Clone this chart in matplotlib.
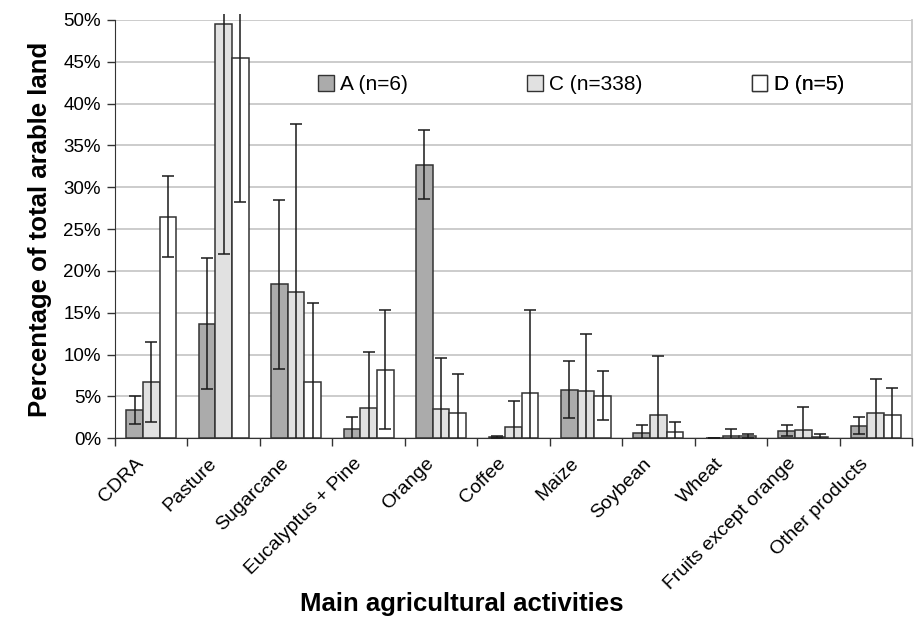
import numpy as np
import matplotlib
matplotlib.use("Agg")
import matplotlib.pyplot as plt
import matplotlib.transforms as mtransforms
from matplotlib.patches import Patch
from matplotlib.transforms import Bbox, TransformedBbox

plt.rcParams["font.family"] = ["Liberation Sans", "DejaVu Sans"]

categories = ["CDRA", "Pasture", "Sugarcane", "Eucalyptus + Pine", "Orange", "Coffee",
              "Maize", "Soybean", "Wheat", "Fruits except orange", "Other products"]

# mean share of arable land (%) and error (%), per farm group
a_vals = [3.4, 13.7, 18.4, 1.1, 32.7, 0.15, 5.8, 0.6, 0.05, 0.9, 1.5]
a_err = [1.65, 7.85, 10.1, 1.5, 4.1, 0.1, 3.4, 1.0, 0.0, 0.65, 1.0]
c_vals = [6.75, 49.5, 17.5, 3.6, 3.5, 1.3, 5.65, 2.8, 0.25, 1.0, 3.05]
c_err = [4.75, 27.5, 20.1, 6.75, 6.1, 3.2, 6.85, 7.0, 0.85, 2.7, 4.05]
d_vals = [26.5, 45.5, 6.7, 8.2, 3.0, 5.4, 5.1, 0.7, 0.3, 0.2, 2.8]
d_err = [4.8, 17.3, 9.5, 7.1, 4.7, 9.9, 2.9, 1.2, 0.25, 0.35, 3.2]

series = [("A (n=6)", a_vals, a_err, "#ababab"),
          ("C (n=338)", c_vals, c_err, "#e1e1e1"),
          ("D (n=5)", d_vals, d_err, "#ffffff")]

fig = plt.figure(figsize=(9.17, 6.23), dpi=100)
ax = fig.add_axes([115 / 917, 1 - 438.3 / 623, 797 / 917, 418.3 / 623])

x = np.arange(len(categories))
width = 0.23
# error bars may poke a little above the 50% line, as in the original
clip = TransformedBbox(Bbox([[0, 0], [1, 1.0143]]), ax.transAxes)

for i, (name, vals, err, col) in enumerate(series):
    pos = x + (i - 1) * width
    ax.bar(pos, vals, width=width, color=col, edgecolor="#333333", linewidth=1.1, zorder=2)
    eb = ax.errorbar(pos, vals, yerr=err, fmt="none", ecolor="#1a1a1a", elinewidth=1.1,
                     capsize=4.3, capthick=1.1, zorder=3)
    for cl in eb.lines[1]:
        cl.set_clip_box(clip)
    for lc in eb.lines[2]:
        lc.set_clip_box(clip)

ax.set_xlim(-0.5, len(categories) - 0.5)
ax.set_ylim(0, 50)
ax.set_yticks(np.arange(0, 51, 5))
ax.set_yticklabels([f"{v}%" for v in range(0, 51, 5)], fontsize=13.5)
ax.yaxis.grid(True, color="#c8c8c8", linewidth=1.3, zorder=0)
ax.set_axisbelow(True)

ax.set_xticks(x)
ax.set_xticklabels(categories, rotation=45, ha="right", rotation_mode="anchor", fontsize=14)
ax.tick_params(axis="x", length=0, pad=12)
# nudge the slanted labels a bit left of the group centre
shift = mtransforms.ScaledTranslation(-0.16, 0, fig.dpi_scale_trans)
for lbl in ax.get_xticklabels():
    lbl.set_transform(lbl.get_transform() + shift)
ax.set_xticks(np.arange(-0.5, len(categories)), minor=True)
ax.tick_params(axis="x", which="minor", length=6, width=1, color="#333333")
ax.tick_params(axis="y", length=6, width=1, color="#333333", pad=4)

ax.spines["top"].set_visible(False)
ax.spines["right"].set_color("#c8c8c8")
ax.spines["right"].set_linewidth(1.3)
ax.spines["left"].set_color("#333333")
ax.spines["bottom"].set_color("#333333")

ax.set_ylabel("Percentage of total arable land", fontsize=18.5, fontweight="bold", labelpad=8)
ax.set_xlabel("Main agricultural activities", fontsize=18.5, fontweight="bold")
ax.xaxis.set_label_coords(0.435, -0.368)

# three legend entries spread across the top, like the original
for (name, vals, err, col), lx in zip(series, [0.2547, 0.517, 0.799]):
    lg = ax.legend(handles=[Patch(facecolor=col, edgecolor="#333333", linewidth=1)], labels=[name],
                   loc="center left", bbox_to_anchor=(lx, 0.845), frameon=False, fontsize=15,
                   handlelength=0.75, handleheight=0.75, handletextpad=0.3,
                   borderpad=0, borderaxespad=0)
    ax.add_artist(lg)

fig.savefig("out.png", dpi=100)
